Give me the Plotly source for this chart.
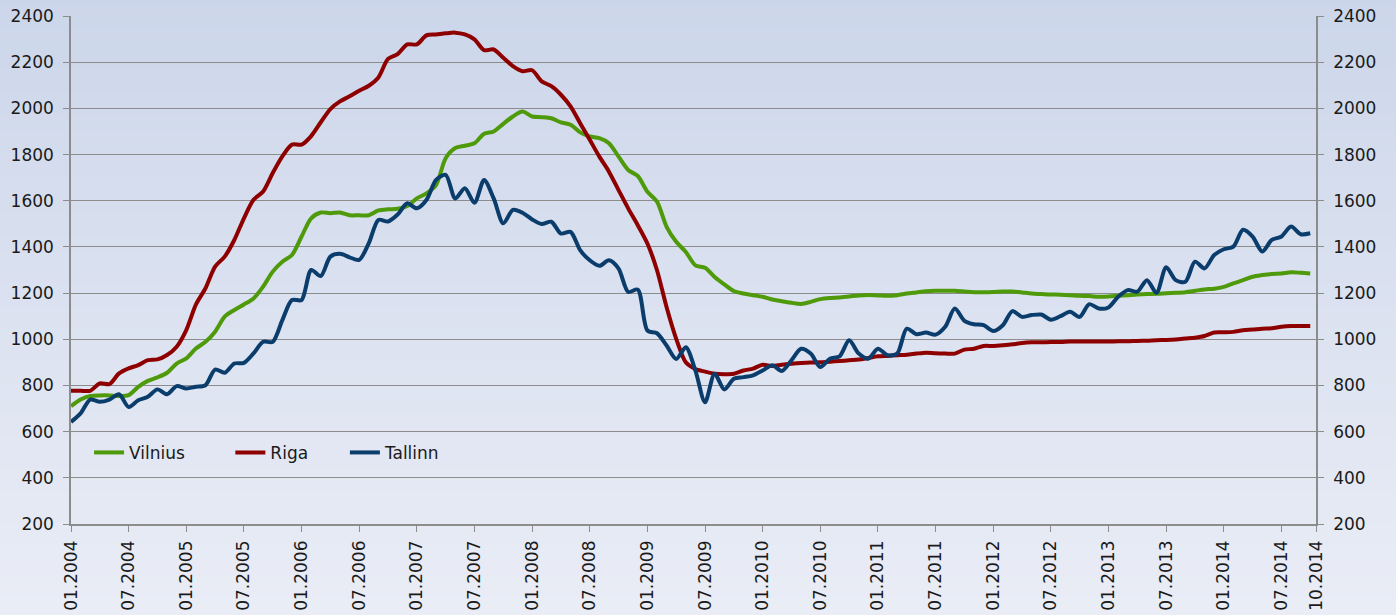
import plotly.graph_objects as go

# ---------------- data ----------------
months = [f"{m:02d}.{y}" for y in range(2004, 2015) for m in range(1, 13)][:130]  # 01.2004 .. 10.2014

vilnius = [710, 739, 754, 757, 757, 754, 758, 794, 820, 835,
           855, 895, 917, 960, 989, 1033, 1098, 1127, 1151, 1177,
           1228, 1293, 1336, 1365, 1445, 1524, 1549, 1546, 1549, 1537,
           1537, 1537, 1558, 1563, 1565, 1577, 1610, 1632, 1668, 1784,
           1828, 1838, 1849, 1890, 1900, 1933, 1965, 1986, 1965, 1962,
           1957, 1939, 1929, 1896, 1878, 1871, 1849, 1791, 1733, 1707,
           1639, 1596, 1487, 1422, 1378, 1320, 1310, 1270, 1238, 1209,
           1198, 1191, 1184, 1172, 1165, 1158, 1153, 1162, 1174, 1179,
           1181, 1185, 1190, 1192, 1190, 1188, 1191, 1198, 1203, 1208,
           1210, 1210, 1210, 1207, 1204, 1204, 1205, 1207, 1207, 1203,
           1198, 1196, 1194, 1193, 1191, 1188, 1187, 1184, 1185, 1188,
           1191, 1194, 1196, 1197, 1199, 1201, 1204, 1210, 1216, 1219,
           1227, 1242, 1256, 1271, 1278, 1283, 1285, 1290, 1288, 1285]

riga = [777, 777, 777, 809, 806, 852, 874, 888, 910, 913,
        932, 968, 1040, 1150, 1221, 1315, 1358, 1430, 1524, 1604,
        1640, 1720, 1792, 1843, 1843, 1880, 1940, 1997, 2030, 2052,
        2076, 2098, 2134, 2214, 2235, 2277, 2277, 2316, 2320, 2325,
        2328, 2320, 2299, 2252, 2255, 2219, 2183, 2161, 2165, 2117,
        2096, 2059, 2009, 1936, 1864, 1791, 1726, 1646, 1567, 1494,
        1415, 1299, 1139, 1002, 900, 871, 860, 851, 849, 851,
        865, 873, 890, 884, 890, 894, 897, 899, 900, 903,
        906, 909, 912, 919, 926, 928, 931, 933, 938, 942,
        939, 938, 938, 955, 959, 971, 971, 974, 978, 984,
        987, 987, 988, 988, 990, 990, 990, 990, 990, 991,
        991, 993, 994, 996, 997, 999, 1003, 1007, 1014, 1029,
        1030, 1032, 1039, 1042, 1046, 1048, 1054, 1057, 1057, 1057]

tallinn = [642, 679, 739, 729, 739, 762, 707, 736, 751, 783,
           762, 797, 787, 794, 801, 869, 855, 895, 898, 939,
           989, 989, 1083, 1170, 1170, 1300, 1274, 1358, 1370, 1355,
           1344, 1416, 1517, 1510, 1540, 1589, 1567, 1603, 1690, 1712,
           1610, 1654, 1591, 1690, 1610, 1502, 1560, 1548, 1519, 1499,
           1509, 1458, 1465, 1386, 1342, 1318, 1342, 1306, 1205, 1215,
           1038, 1026, 973, 915, 965, 864, 727, 851, 783, 829,
           836, 844, 865, 887, 863, 909, 959, 938, 880, 916,
           926, 996, 938, 916, 959, 931, 938, 1046, 1022, 1029,
           1020, 1054, 1133, 1080, 1065, 1061, 1036, 1061, 1122, 1097,
           1105, 1107, 1085, 1100, 1119, 1097, 1152, 1133, 1138, 1184,
           1213, 1206, 1256, 1201, 1312, 1256, 1249, 1336, 1307, 1365,
           1390, 1401, 1474, 1445, 1380, 1430, 1445, 1488, 1455, 1459]

series_names = ["Vilnius", "Riga", "Tallinn"]
series_colors = ["#4f9a0a", "#8e0000", "#0b3d6c"]

y_ticks = list(range(200, 2401, 200))
x_idx = list(range(len(months)))
x_end = len(months) - 1 + 0.6
x_tickvals = [i for i, lab in enumerate(months) if lab[:2] in ("01", "07")] + [x_end]
x_ticktext = [months[i] for i in x_tickvals[:-1]] + [months[-1]]

FONT = "Verdana, DejaVu Sans, sans-serif"
W, H = 1396, 615
ML, MR, MT, MB = 71, 80, 16, 91

fig = go.Figure()
legends = ["legend", "legend2", "legend3"]
for name, vals, col, lg in zip(series_names, [vilnius, riga, tallinn], series_colors, legends):
    fig.add_trace(go.Scatter(x=x_idx, y=vals, name=name, mode="lines",
                             line=dict(color=col, width=4, shape="spline", smoothing=0.8),
                             legend=lg))
# invisible trace to activate the right-hand axis
fig.add_trace(go.Scatter(x=x_idx, y=riga, yaxis="y2", mode="lines", opacity=0,
                         showlegend=False, hoverinfo="skip", line=dict(width=0)))

# background gradient (paper coordinates)
pw = W - ML - MR
ph = H - MT - MB
top = (204, 214, 234)
bot = (234, 237, 246)
N = 80
for i in range(N):
    py0 = H * i / N
    py1 = H * (i + 1) / N
    t = (i + 0.5) / N
    c = tuple(round(top[k] + (bot[k] - top[k]) * t) for k in range(3))
    fig.add_shape(type="rect", xref="paper", yref="paper",
                  x0=-ML / pw, x1=(W - ML) / pw,
                  y0=(H - MB - py1) / ph, y1=(H - MB - py0) / ph + 0.002,
                  line=dict(width=0), fillcolor=f"rgb{c}", layer="below")

axis_col = "#8c8c8c"
yax = dict(range=[200, 2400], tickvals=y_ticks, showgrid=True, gridcolor=axis_col,
           gridwidth=1.3, showline=True, linecolor=axis_col, linewidth=1.5,
           ticks="outside", ticklen=6, tickcolor=axis_col, zeroline=False,
           automargin=False, ticklabelstandoff=6,
           tickfont=dict(family=FONT, size=17, color="#1a1a1a"))

leg_common = dict(orientation="h", yanchor="middle", y=0.14, xanchor="left",
                  bgcolor="rgba(0,0,0,0)", font=dict(family=FONT, size=17, color="#1a1a1a"),
                  borderwidth=0)

fig.update_layout(
    width=W, height=H,
    margin=dict(l=ML, r=MR, t=MT, b=MB, autoexpand=False),
    paper_bgcolor="rgb(219,225,240)",
    plot_bgcolor="rgba(0,0,0,0)",
    font=dict(family=FONT, size=17, color="#1a1a1a"),
    xaxis=dict(range=[0, x_end], tickvals=x_tickvals, ticktext=x_ticktext, tickangle=-90,
               showgrid=False, showline=True, linecolor=axis_col, linewidth=1.5,
               ticks="outside", ticklen=6, tickcolor=axis_col, zeroline=False,
               automargin=False, ticklabelstandoff=2,
               tickfont=dict(family=FONT, size=17, color="#1a1a1a")),
    yaxis=yax,
    yaxis2=dict(yax, overlaying="y", side="right", anchor="x", showgrid=False),
    legend=dict(leg_common, x=0.0145),
    legend2=dict(leg_common, x=0.128),
    legend3=dict(leg_common, x=0.22),
    showlegend=True,
)

fig.write_html("out.html", config={"displayModeBar": False},
               post_script="document.body.style.margin='0';document.body.style.overflow='hidden';")
